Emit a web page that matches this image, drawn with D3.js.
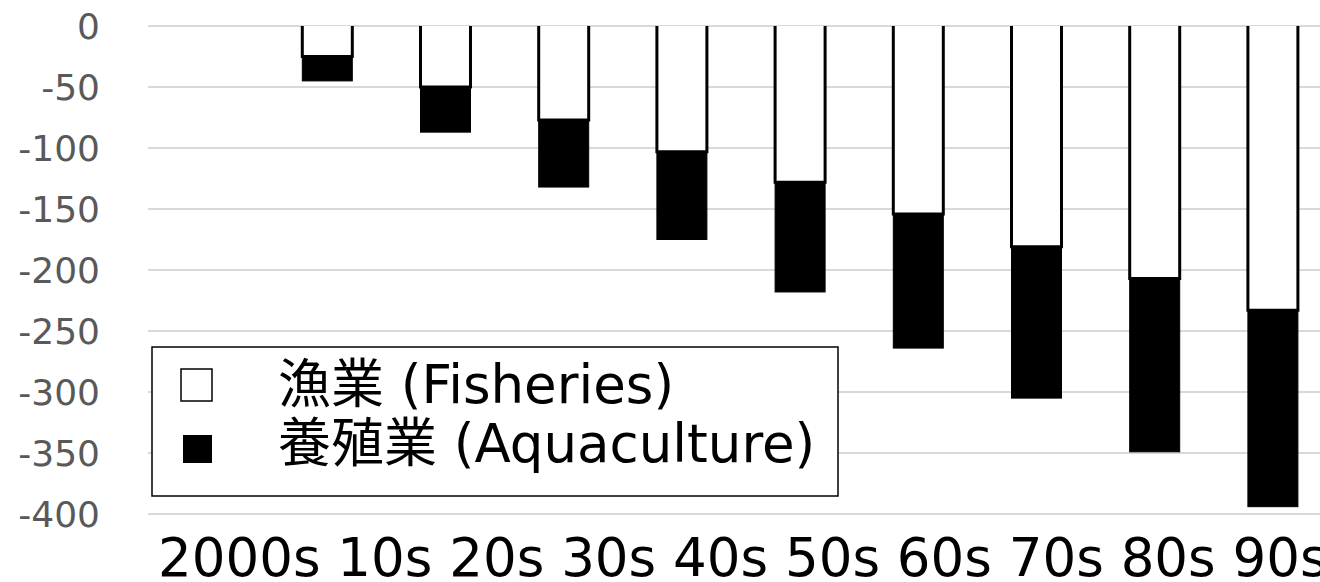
<!DOCTYPE html>
<html>
<head>
<meta charset="utf-8">
<script src="https://cdn.jsdelivr.net/npm/d3@7"></script>
<style>
  html, body { margin: 0; padding: 0; background: #fff; }
  svg { display: block; font-family: "DejaVu Sans", "Noto Sans CJK JP", sans-serif; }
</style>
</head>
<body>
<div id="chart"></div>
<script>
// Data
const categories = ["2000s", "10s", "20s", "30s", "40s", "50s", "60s", "70s", "80s", "90s"];
const fisheries = [0, -25, -50, -77, -103, -128, -154, -181, -207, -233];
const aquaculture = [0, -20, -37, -55, -72, -90, -110, -124, -142, -161];
const yTicks = [0, -50, -100, -150, -200, -250, -300, -350, -400];
const seriesKeys = ["fisheries", "aquaculture"];
const seriesLabels = ["漁業 (Fisheries)", "養殖業 (Aquaculture)"];

const width = 1320, height = 582;
const plot = { left: 150, right: 1332, top: 26, bottom: 514 };

const svg = d3.select("#chart")
  .append("svg")
  .attr("width", width)
  .attr("height", height);

const x = d3.scaleBand()
  .domain(categories)
  .range([plot.left, plot.right])
  .paddingInner(0.577)
  .paddingOuter(0.2885);

const y = d3.scaleLinear()
  .domain([-400, 0])
  .range([plot.bottom, plot.top]);

// gridlines
svg.append("g")
  .selectAll("line")
  .data(yTicks)
  .enter()
  .append("line")
  .attr("x1", plot.left - 2)
  .attr("x2", plot.right)
  .attr("y1", d => y(d))
  .attr("y2", d => y(d))
  .attr("stroke", "#d9d9d9")
  .attr("stroke-width", 2);

// y tick labels
svg.append("g")
  .selectAll("text")
  .data(yTicks)
  .enter()
  .append("text")
  .attr("x", 100)
  .attr("y", d => y(d))
  .attr("dy", "0.36em")
  .attr("text-anchor", "end")
  .style("font-size", "36px")
  .style("fill", "#595959")
  .text(d => d);

// stacked (negative) bars
const rows = categories.map((c, i) => ({ cat: c, fisheries: fisheries[i], aquaculture: aquaculture[i] }));
const stacked = d3.stack()
  .keys(seriesKeys)
  .offset(d3.stackOffsetDiverging)(rows);

const bw = x.bandwidth();

// fisheries: white with black outline on sides and bottom (no top edge)
svg.append("g")
  .selectAll("rect")
  .data(stacked[0].filter(d => d[0] !== d[1]))
  .enter()
  .append("rect")
  .attr("x", d => x(d.data.cat))
  .attr("y", d => y(Math.max(d[0], d[1])))
  .attr("width", bw)
  .attr("height", d => Math.abs(y(d[0]) - y(d[1])))
  .attr("fill", "#fff")
  .attr("stroke", "#000")
  .attr("stroke-width", 3)
  .attr("stroke-dasharray", d => {
    const h = Math.abs(y(d[0]) - y(d[1]));
    return `0 ${bw} ${h * 2 + bw}`;
  });

// aquaculture: solid black
svg.append("g")
  .selectAll("rect")
  .data(stacked[1].filter(d => d[0] !== d[1]))
  .enter()
  .append("rect")
  .attr("x", d => x(d.data.cat))
  .attr("y", d => y(Math.max(d[0], d[1])))
  .attr("width", bw)
  .attr("height", d => Math.abs(y(d[0]) - y(d[1])))
  .attr("fill", "#000")
  .attr("stroke", "#000")
  .attr("stroke-width", 1);

// category labels, one line as in the reference
svg.append("text")
  .attr("x", 158)
  .attr("y", 576)
  .style("font-size", "53px")
  .style("fill", "#000")
  .attr("xml:space", "preserve")
  .text(categories.join(" "));

// legend
const legend = svg.append("g");
legend.append("rect")
  .attr("x", 152)
  .attr("y", 347)
  .attr("width", 686)
  .attr("height", 149)
  .attr("fill", "#fff")
  .attr("stroke", "#000")
  .attr("stroke-width", 1.5);

seriesKeys.forEach((key, i) => {
  const g = legend.append("g").attr("transform", `translate(0, ${i * 59})`);
  if (key === "fisheries") {
    g.append("rect")
      .attr("x", 181).attr("y", 369)
      .attr("width", 31).attr("height", 32)
      .attr("fill", "#fff").attr("stroke", "#000").attr("stroke-width", 1.5);
  } else {
    g.append("rect")
      .attr("x", 183).attr("y", 376)
      .attr("width", 29).attr("height", 28)
      .attr("fill", "#000");
  }
  g.append("text")
    .attr("x", 278)
    .attr("y", 403)
    .style("font-size", "53px")
    .style("fill", "#000")
    .text(seriesLabels[i]);
});
</script>
</body>
</html>
